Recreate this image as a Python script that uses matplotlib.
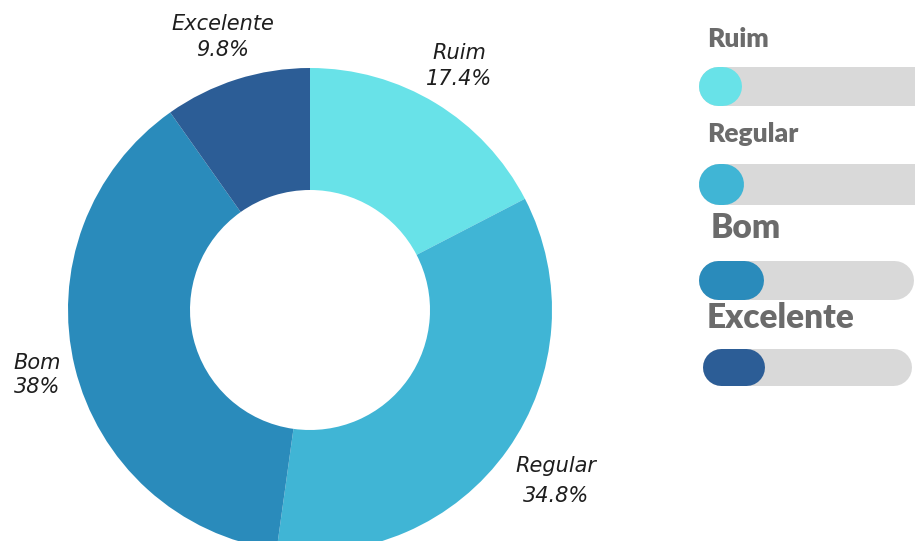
import matplotlib
matplotlib.use("Agg")
import matplotlib.pyplot as plt

# ---- data ----
categories = ["Ruim", "Regular", "Bom", "Excelente"]
shares = [17.4, 34.8, 38.0, 9.8]
share_labels = ["17.4%", "34.8%", "38%", "9.8%"]
progress = [0.20, 0.21, 0.30, 0.29]
colors = ["#68e2e8", "#40b5d5", "#2a8bbb", "#2c5d96"]

W, H = 915, 541
fig = plt.figure(figsize=(W / 100, H / 100), dpi=100)
ax = fig.add_axes([0, 0, 1, 1])
ax.set_xlim(0, W)
ax.set_ylim(H, 0)
ax.axis("off")

# donut (drawn in a separate equal-aspect axes using pixel coordinates)
pax = fig.add_axes([0, 0, 1, 1])
pax.set_xlim(0, W)
pax.set_ylim(0, H)
pax.set_aspect("equal")
pax.axis("off")
cx, cy, R = 310, H - 310, 242
pax.pie(shares, colors=colors, startangle=90, counterclock=False,
        center=(cx, cy), radius=R,
        wedgeprops=dict(width=R - 120, edgecolor="none"))
pax.set_xlim(0, W)
pax.set_ylim(0, H)

# slice labels
lab_pos = {"Excelente": (223, 24, 50), "Ruim": (459, 53, 79),
           "Bom": (37, 363, 387), "Regular": (556, 466, 496)}
ifont = dict(family="DejaVu Sans", style="oblique", fontsize=15, color="#1e1e1e")
for cat, sl in zip(categories, share_labels):
    x, y1, y2 = lab_pos[cat]
    ax.text(x, y1, cat, ha="center", va="center", **ifont)
    ax.text(x, y2, sl, ha="center", va="center", **ifont)

# progress-bar legend
label_y = [39, 134, 228, 318]
label_x = [707, 707, 711, 707]
label_size = [19, 19, 24, 24]
bar_y = [85.5, 183.5, 279.5, 367]
bar_h = [39, 41, 39, 37]
bar_end = [940, 940, 913, 911]
bar_start = [698, 698, 698, 702]
track_len = 217
px_per_pt = 100 / 72
for i, cat in enumerate(categories):
    ax.text(label_x[i], label_y[i], cat, ha="left", va="center",
            family="Lato", fontweight="heavy", fontsize=label_size[i],
            color="#6b6b6b")
    lw = bar_h[i] / px_per_pt
    r = bar_h[i] / 2
    ax.plot([bar_start[i] + r, bar_end[i] - r], [bar_y[i], bar_y[i]],
            color="#d9d9d9", lw=lw, solid_capstyle="round")
    fill_end = bar_start[i] + progress[i] * track_len
    ax.plot([bar_start[i] + r, max(fill_end - r, bar_start[i] + r + 0.01)],
            [bar_y[i], bar_y[i]], color=colors[i], lw=lw,
            solid_capstyle="round")

fig.savefig("out.png", dpi=100)
